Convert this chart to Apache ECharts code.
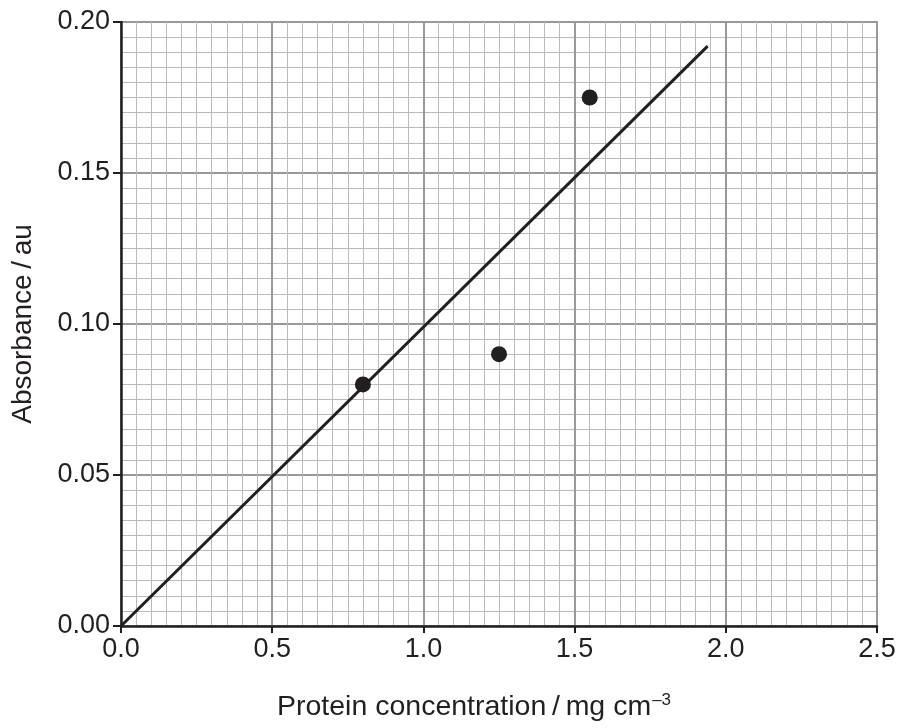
<!DOCTYPE html>
<html>
<head>
<meta charset="utf-8">
<script src="https://cdn.jsdelivr.net/npm/echarts@6/dist/echarts.min.js"></script>
<style>html,body{margin:0;padding:0;background:#fff}#c{width:901px;height:728px}</style>
</head>
<body>
<div id="c"></div>
<script>
const xTicks = [0, 0.5, 1.0, 1.5, 2.0, 2.5];
const yTicks = [0, 0.05, 0.10, 0.15, 0.20];
const pointX = [0.8, 1.25, 1.55];
const pointY = [0.08, 0.09, 0.175];
const lineX = [0, 1.94];
const lineY = [0, 0.192];

const ink = '#231f20';
const chart = echarts.init(document.getElementById('c'));
const font = 'Liberation Sans, Arial, sans-serif';
chart.setOption({
  animation: false,
  backgroundColor: '#fff',
  grid: { left: 121, right: 24, top: 22, bottom: 98, show: true, borderColor: '#a0a0a0', borderWidth: 2 },
  xAxis: {
    type: 'value', min: xTicks[0], max: xTicks[xTicks.length - 1], interval: 0.5,
    axisLine: { show: true, onZero: false, lineStyle: { color: ink, width: 2.5 } },
    axisTick: { show: true, length: 7, lineStyle: { color: ink, width: 2 } },
    axisLabel: { color: ink, fontSize: 27, fontFamily: font, margin: 10, formatter: v => v.toFixed(1) },
    splitLine: { show: true, lineStyle: { color: '#999999', width: 2 } },
    minorTick: { show: false, splitNumber: 10 },
    minorSplitLine: { show: true, lineStyle: { color: '#bababa', width: 1 } },
    name: '{a|Protein concentration\u2009/\u2009mg cm}{s|–3}',
    nameLocation: 'middle', nameGap: 66,
    nameTextStyle: {
      color: ink, fontFamily: font, padding: [0, 50, 0, 0],
      rich: {
        a: { fontSize: 28.5, color: ink, fontFamily: font, verticalAlign: 'bottom', lineHeight: 30 },
        s: { fontSize: 17, color: ink, fontFamily: font, verticalAlign: 'top', lineHeight: 30, padding: [0, 0, 14, 1] }
      }
    }
  },
  yAxis: {
    type: 'value', min: yTicks[0], max: yTicks[yTicks.length - 1], interval: 0.05,
    axisLine: { show: true, onZero: false, lineStyle: { color: ink, width: 2.5 } },
    axisTick: { show: true, length: 8, lineStyle: { color: ink, width: 2 } },
    axisLabel: { color: ink, fontSize: 27, fontFamily: font, margin: 11, formatter: v => v.toFixed(2) },
    splitLine: { show: true, lineStyle: { color: '#999999', width: 2 } },
    minorTick: { show: false, splitNumber: 10 },
    minorSplitLine: { show: true, lineStyle: { color: '#bababa', width: 1 } },
    name: 'Absorbance\u2009/\u2009au', nameLocation: 'middle', nameGap: 84, nameRotate: 90,
    nameTextStyle: { color: ink, fontSize: 28, fontFamily: font }
  },
  series: [
    {
      type: 'line', data: lineX.map((x, i) => [x, lineY[i]]), showSymbol: false,
      lineStyle: { color: ink, width: 3 }, z: 3
    },
    {
      type: 'scatter', data: pointX.map((x, i) => [x, pointY[i]]), symbolSize: 16,
      itemStyle: { color: ink, opacity: 1 }, z: 4
    }
  ]
});
</script>
</body>
</html>
